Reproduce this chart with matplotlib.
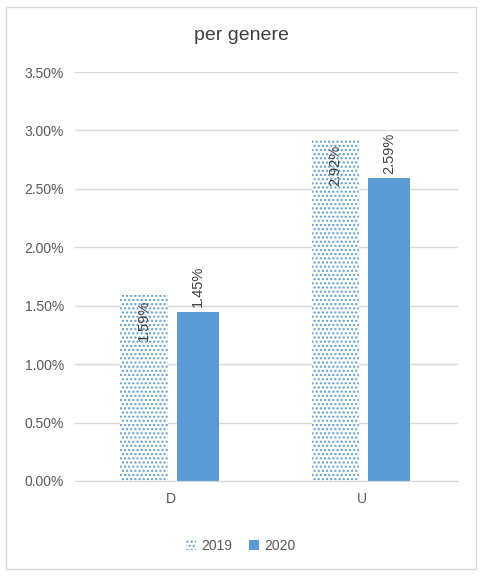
import matplotlib
matplotlib.use("Agg")
import matplotlib.pyplot as plt
from matplotlib.patches import Rectangle
import numpy as np

categories = ["D", "U"]
v2019 = [0.0159, 0.0292]
v2020 = [0.0145, 0.0259]
labels2019 = ["1.59%", "2.92%"]
labels2020 = ["1.45%", "2.59%"]
yticks = [0, 0.005, 0.01, 0.015, 0.02, 0.025, 0.03, 0.035]

plt.rcParams['font.family'] = ['Liberation Sans', 'DejaVu Sans']
plt.rcParams['hatch.linewidth'] = 1.0
fig = plt.figure(figsize=(4.82, 5.76), dpi=100)
fig.patches.append(Rectangle((0.012, 0.012), 0.976, 0.976, transform=fig.transFigure,
                             fill=False, edgecolor="#d9d9d9", lw=1))
ax = fig.add_axes([0.156, 0.165, 0.794, 0.71])
blue = "#5b9bd5"
x = np.arange(len(categories))
w = 0.25
b1 = ax.bar(x - 0.14, v2019, w, facecolor="white", edgecolor=blue, hatch="....", lw=0, label="2019")
b2 = ax.bar(x + 0.14, v2020, w * 0.88, color=blue, label="2020")
for xi, v, t in zip(x, v2019, labels2019):
    ax.text(xi - 0.14, v - 0.0004, t, rotation=90, ha="center", va="top", fontsize=10.5, color="#404040")
for xi, v, t in zip(x, v2020, labels2020):
    ax.text(xi + 0.14, v + 0.0004, t, rotation=90, ha="center", va="bottom", fontsize=10.5, color="#404040")
ax.set_xlim(-0.5, 1.5)
ax.set_ylim(0, 0.035)
ax.set_yticks(yticks)
ax.set_yticklabels([f"{t*100:.2f}%" for t in yticks], fontsize=10, color="#595959")
ax.set_xticks(x)
ax.set_xticklabels(categories, fontsize=10, color="#595959")
ax.grid(axis="y", color="#d9d9d9", lw=1)
ax.set_axisbelow(True)
for s in ["top", "right", "left"]:
    ax.spines[s].set_visible(False)
ax.spines["bottom"].set_color("#d9d9d9")
ax.tick_params(length=0, pad=8)
fig.text(0.5, 0.938, "per genere", fontsize=14, color="#404040", ha="center", va="center")
fig.legend(handles=[b1, b2], loc="center", bbox_to_anchor=(0.5, 0.052), ncol=2, frameon=False,
           fontsize=10, handlelength=0.7, handleheight=0.7, columnspacing=1.2, handletextpad=0.4,
           labelcolor="#595959")
fig.savefig("out.png", dpi=100)
